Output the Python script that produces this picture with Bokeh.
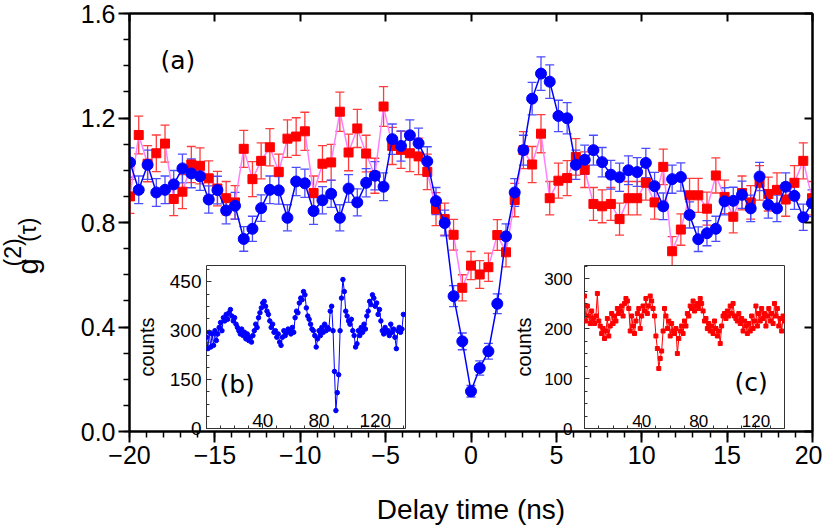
import math
from bokeh.plotting import figure
from bokeh.core.properties import value
from bokeh.models import (ColumnDataSource, Whisker, TeeHead, Range1d, LinearAxis,
                          SingleIntervalTicker, NumeralTickFormatter, Label, GridBox)
from bokeh.embed import file_html
from bokeh.resources import INLINE

# ---------------- data ----------------
tau = [-19.97, -19.46, -18.94, -18.43, -17.92, -17.41, -16.90, -16.38, -15.87, -15.36,
       -14.85, -14.34, -13.82, -13.31, -12.80, -12.29, -11.78, -11.26, -10.75, -10.24,
       -9.73, -9.22, -8.70, -8.19, -7.68, -7.17, -6.66, -6.14, -5.63, -5.12,
       -4.61, -4.10, -3.58, -3.07, -2.56, -2.05, -1.54, -1.02, -0.51, 0.00,
       0.51, 1.02, 1.54, 2.05, 2.56, 3.07, 3.58, 4.10, 4.61, 5.12,
       5.63, 6.14, 6.66, 7.17, 7.68, 8.19, 8.70, 9.22, 9.73, 10.24,
       10.75, 11.26, 11.78, 12.29, 12.80, 13.31, 13.82, 14.34, 14.85, 15.36,
       15.87, 16.38, 16.90, 17.41, 17.92, 18.43, 18.94, 19.46, 19.97]

g2_blue = [1.030, 0.925, 1.021, 0.915, 0.925, 0.946, 1.007, 0.988, 0.977, 0.888,
           0.924, 0.846, 0.864, 0.737, 0.776, 0.855, 0.925, 0.923, 0.818, 0.957,
           0.950, 0.844, 0.885, 0.910, 0.818, 0.930, 0.877, 0.952, 0.979, 0.937,
           1.119, 1.093, 1.134, 1.103, 1.034, 0.882, 0.798, 0.518, 0.345, 0.154,
           0.243, 0.307, 0.489, 0.747, 0.915, 1.077, 1.274, 1.370, 1.339, 1.208,
           1.199, 1.021, 1.040, 1.077, 1.031, 0.983, 0.973, 1.000, 0.993, 1.028,
           0.939, 0.862, 0.966, 0.974, 0.829, 0.736, 0.759, 0.776, 0.881, 0.883,
           0.906, 0.854, 0.976, 0.868, 0.854, 0.937, 0.902, 0.820, 0.874]

err_blue = [0.056, 0.053, 0.056, 0.053, 0.053, 0.053, 0.055, 0.055, 0.054, 0.052,
            0.053, 0.051, 0.051, 0.047, 0.048, 0.051, 0.053, 0.053, 0.050, 0.054,
            0.054, 0.051, 0.052, 0.052, 0.050, 0.053, 0.052, 0.054, 0.054, 0.053,
            0.058, 0.058, 0.059, 0.058, 0.056, 0.052, 0.049, 0.040, 0.032, 0.022,
            0.027, 0.030, 0.038, 0.048, 0.053, 0.057, 0.062, 0.064, 0.064, 0.060,
            0.060, 0.056, 0.056, 0.057, 0.056, 0.055, 0.054, 0.055, 0.055, 0.056,
            0.053, 0.051, 0.054, 0.054, 0.050, 0.047, 0.048, 0.048, 0.052, 0.052,
            0.052, 0.051, 0.054, 0.051, 0.051, 0.053, 0.052, 0.050, 0.051]

g2_red = [0.900, 1.135, 1.025, 1.065, 1.102, 0.890, 0.918, 1.022, 1.017, 0.969,
          0.930, 0.893, 0.877, 1.082, 0.966, 1.036, 1.088, 0.994, 1.121, 1.129,
          1.149, 0.913, 1.025, 1.030, 1.224, 1.068, 1.160, 1.064, 0.979, 1.244,
          1.093, 1.078, 1.065, 1.053, 0.994, 0.851, 0.813, 0.753, 0.550, 0.635,
          0.601, 0.629, 0.752, 0.686, 0.886, 1.077, 1.022, 1.140, 0.893, 0.960,
          0.970, 1.051, 1.002, 0.871, 0.862, 0.871, 0.813, 0.893, 0.893, 0.952,
          0.877, 1.013, 0.690, 0.773, 0.904, 0.904, 0.853, 0.980, 0.898, 0.822,
          0.913, 0.877, 0.952, 0.909, 0.925, 0.888, 0.952, 1.036, 0.893]

err_red = [0.065, 0.072, 0.069, 0.070, 0.071, 0.064, 0.065, 0.069, 0.069, 0.067,
           0.066, 0.064, 0.064, 0.071, 0.067, 0.069, 0.071, 0.068, 0.072, 0.072,
           0.073, 0.065, 0.069, 0.069, 0.075, 0.070, 0.073, 0.070, 0.067, 0.076,
           0.071, 0.071, 0.070, 0.070, 0.068, 0.063, 0.061, 0.059, 0.050, 0.054,
           0.053, 0.054, 0.059, 0.056, 0.064, 0.071, 0.069, 0.073, 0.064, 0.067,
           0.067, 0.070, 0.068, 0.063, 0.063, 0.063, 0.061, 0.064, 0.064, 0.066,
           0.064, 0.068, 0.056, 0.060, 0.065, 0.065, 0.063, 0.067, 0.064, 0.062,
           0.065, 0.064, 0.066, 0.065, 0.065, 0.064, 0.066, 0.069, 0.064]

inset_time = list(range(0, 141))

counts_b = [280, 245, 295, 250, 290, 255, 300, 270, 290, 310,
            325, 300, 340, 330, 350, 335, 355, 365, 345, 330,
            340, 320, 310, 300, 290, 305, 285, 295, 275, 290,
            270, 280, 265, 285, 300, 320, 310, 340, 355, 370,
            385, 390, 375, 360, 350, 330, 310, 320, 295, 300,
            280, 290, 265, 255, 280, 300, 285, 295, 305, 300,
            290, 310, 295, 340, 360, 355, 385, 400, 395, 420,
            410, 370, 345, 335, 320, 305, 300, 285, 250, 275,
            300, 285, 310, 295, 320, 300, 310, 305, 360, 375,
            300, 175, 55, 110, 165, 300, 400, 457, 420, 360,
            345, 330, 320, 335, 300, 285, 250, 260, 300, 285,
            310, 295, 320, 305, 345, 360, 390, 380, 410, 400,
            375, 385, 350, 365, 330, 300, 290, 310, 295, 300,
            285, 320, 295, 305, 280, 245, 300, 310, 295, 305,
            350]

counts_c = [265, 215, 245, 225, 210, 235, 220, 210, 225, 270,
            215, 205, 190, 200, 180, 195, 220, 185, 205, 230,
            210, 225, 215, 240, 230, 235, 245, 225, 250, 260,
            255, 240, 195, 225, 205, 190, 215, 230, 240, 200,
            225, 245, 235, 260, 230, 245, 265, 255, 240, 225,
            185, 160, 120, 140, 155, 195, 240, 225, 200, 215,
            185, 210, 195, 190, 200, 150, 180, 195, 205, 190,
            215, 205, 230, 225, 245, 240, 255, 235, 245, 250,
            240, 260, 250, 235, 215, 220, 200, 210, 195, 205,
            190, 215, 200, 185, 195, 170, 205, 225, 230, 220,
            235, 225, 245, 230, 250, 225, 220, 215, 230, 210,
            220, 195, 215, 205, 190, 210, 195, 225, 200, 215,
            245, 205, 230, 215, 240, 220, 230, 205, 225, 240,
            215, 230, 210, 250, 225, 240, 205, 220, 195, 225,
            215]

inset_xticks = [40, 80, 120]
ylabel_parts = ["g", "(2)", "(τ)"]

TICK_FONT = "Liberation Sans"
H = 527
LW = 60          # width of the y-title holder on the far left
MW = 762         # width of the main figure

# ---------------- main figure ----------------
p = figure(width=MW, height=H, x_range=Range1d(-20, 20), y_range=Range1d(0, 1.6),
           output_backend="svg", toolbar_location=None,
           min_border_left=129 - LW, min_border_right=10, min_border_top=13, min_border_bottom=95,
           background_fill_color="white", border_fill_color="white")
p.xgrid.visible = False
p.ygrid.visible = False
p.outline_line_color = "black"
p.outline_line_width = 2

xa = p.xaxis[0]
xa.ticker = SingleIntervalTicker(interval=5, num_minor_ticks=5)
ya = p.yaxis[0]
ya.ticker = SingleIntervalTicker(interval=0.4, num_minor_ticks=4)
ya.formatter = NumeralTickFormatter(format="0.0")
for ax in (xa, ya):
    ax.axis_line_width = 2
    ax.axis_line_color = "black"
    ax.major_tick_out = 11
    ax.major_tick_in = 0
    ax.minor_tick_out = 6
    ax.minor_tick_in = 0
    ax.major_tick_line_width = 2
    ax.minor_tick_line_width = 1.5
    ax.major_tick_line_color = "black"
    ax.minor_tick_line_color = "black"
    ax.major_label_text_font = TICK_FONT
    ax.major_label_text_font_size = "25px"
    ax.major_label_text_color = "black"
    ax.major_label_standoff = 3
xa.axis_label = "Delay time (ns)"
xa.axis_label_text_font = TICK_FONT
xa.axis_label_text_font_size = "28px"
xa.axis_label_text_font_style = "normal"
xa.axis_label_text_color = "black"
xa.axis_label_standoff = 27

top_ax = LinearAxis(ticker=SingleIntervalTicker(interval=5, num_minor_ticks=0),
                    major_label_text_font_size="0px", major_label_standoff=0,
                    major_tick_in=8, major_tick_out=0, minor_tick_in=0, minor_tick_out=0,
                    major_tick_line_width=2, axis_line_width=2)
right_ax = LinearAxis(ticker=SingleIntervalTicker(interval=0.4, num_minor_ticks=0),
                      major_label_text_font_size="0px", major_label_standoff=0,
                      major_tick_in=8, major_tick_out=0, minor_tick_in=0, minor_tick_out=0,
                      major_tick_line_width=2, axis_line_width=2)
p.add_layout(top_ax, "above")
p.add_layout(right_ax, "right")

src_b = ColumnDataSource(dict(t=tau, g=g2_blue,
                              lo=[g - e for g, e in zip(g2_blue, err_blue)],
                              up=[g + e for g, e in zip(g2_blue, err_blue)]))
src_r = ColumnDataSource(dict(t=tau, g=g2_red,
                              lo=[g - e for g, e in zip(g2_red, err_red)],
                              up=[g + e for g, e in zip(g2_red, err_red)]))

RED_ERR = "#FF3C3C"
BLUE_ERR = "#4B4BFF"
wr = Whisker(source=src_r, base="t", lower="lo", upper="up", line_color=RED_ERR, line_width=1.3,
             upper_head=TeeHead(size=9, line_color=RED_ERR, line_width=1.3),
             lower_head=TeeHead(size=9, line_color=RED_ERR, line_width=1.3), level="underlay")
wb = Whisker(source=src_b, base="t", lower="lo", upper="up", line_color=BLUE_ERR, line_width=1.3,
             upper_head=TeeHead(size=9, line_color=BLUE_ERR, line_width=1.3),
             lower_head=TeeHead(size=9, line_color=BLUE_ERR, line_width=1.3), level="underlay")
p.add_layout(wr)
p.add_layout(wb)

p.line("t", "g", source=src_r, line_color="#FF80FF", line_width=1.5)
p.scatter("t", "g", source=src_r, marker="square", size=9, fill_color="#FF0000", line_color="#FF0000")
p.line("t", "g", source=src_b, line_color="#0000FF", line_width=1.5)
p.scatter("t", "g", source=src_b, marker="circle", size=11, fill_color="#0000FF", line_color="#0000FF")

p.add_layout(Label(x=31, y=371, x_units="screen", y_units="screen", text="(a)",
                   text_font="DejaVu Sans", text_font_size="25px", text_color="black",
                   text_baseline="alphabetic", text_align="left"))

# ---------------- y-axis title holder: g^(2)(tau) ----------------
pl = figure(width=LW, height=H, x_range=Range1d(0, LW), y_range=Range1d(0, H),
            output_backend="svg", toolbar_location=None, x_axis_type=None, y_axis_type=None,
            min_border_left=0, min_border_right=0, min_border_top=0, min_border_bottom=0,
            background_fill_color="white", border_fill_color="white", outline_line_color=None)
pl.xgrid.visible = False
pl.ygrid.visible = False
ysrc = ColumnDataSource(dict(x=[27.7, 12.0, 27.0], y=[198, 208, 239], t=ylabel_parts,
                             fs=["29px", "23px", "23px"]))
pl.text(x="x", y="y", text="t", source=ysrc, angle=math.pi / 2,
        text_font=value(TICK_FONT), text_font_size="fs", text_color="black",
        text_baseline="alphabetic", text_align="left")


# ---------------- insets ----------------
def make_inset(ymax, xmax, yint, width, border_top, lab_size, lab_standoff, title_standoff,
               letter, lx, ly):
    f = figure(width=width, height=190, x_range=Range1d(0, xmax), y_range=Range1d(0, ymax),
               output_backend="svg", toolbar_location=None,
               min_border_left=72, min_border_right=4, min_border_top=border_top,
               min_border_bottom=12, background_fill_color="white", border_fill_color=None,
               outline_line_color="#333333", outline_line_width=1)
    f.xgrid.visible = False
    f.ygrid.visible = False
    f.xaxis.ticker = SingleIntervalTicker(interval=40, num_minor_ticks=4)
    f.yaxis.ticker = SingleIntervalTicker(interval=yint, num_minor_ticks=4)
    for ax in (f.xaxis[0], f.yaxis[0]):
        ax.axis_line_color = None
        ax.major_tick_in = 5
        ax.major_tick_out = 0
        ax.minor_tick_in = 3
        ax.minor_tick_out = 0
        ax.major_tick_line_color = "#333333"
        ax.minor_tick_line_color = "#333333"
        ax.major_label_text_font = TICK_FONT
        ax.major_label_text_color = "black"
    f.xaxis.major_label_text_font_size = "0px"
    f.xaxis.major_label_standoff = 0
    f.yaxis.major_label_text_font_size = lab_size
    f.yaxis.major_label_standoff = lab_standoff
    f.yaxis.axis_label = "counts"
    f.yaxis.axis_label_text_font = TICK_FONT
    f.yaxis.axis_label_text_font_size = "20px"
    f.yaxis.axis_label_text_font_style = "normal"
    f.yaxis.axis_label_text_color = "black"
    f.yaxis.axis_label_standoff = title_standoff
    for xt in inset_xticks:
        f.add_layout(Label(x=xt, y=8, x_units="data", y_units="screen", text=str(xt),
                           text_font=TICK_FONT, text_font_size=lab_size, text_color="black",
                           text_align="center", text_baseline="alphabetic"))
    f.add_layout(Label(x=lx, y=ly, x_units="screen", y_units="screen", text=letter,
                       text_font="DejaVu Sans", text_font_size="25px", text_color="black",
                       text_baseline="alphabetic", text_align="left"))
    return f


pb = make_inset(500, 141.5, 150, 277, 15, "19px", 5, 9, "(b)", 13, 44)
pb.line(inset_time, counts_b, line_color="#0000FF", line_width=1)
pb.scatter(inset_time, counts_b, marker="circle", size=4.5, fill_color="#0000FF", line_color="#0000FF")

pc = make_inset(326, 140, 100, 278, 14, "17px", 12, 6, "(c)", 150, 46)
pc.line(inset_time, counts_c, line_color="#FF0000", line_width=1)
pc.scatter(inset_time, counts_c, marker="square", size=4, fill_color="#FF0000", line_color="#FF0000")

grid = GridBox(children=[(pl, 0, 0, 3, 1), (p, 0, 1, 3, 5), (pb, 1, 2), (pc, 1, 4)],
               rows=["250px", "190px", "87px"],
               cols=[f"{LW}px", f"{132 - LW}px", "277px", "101px", "278px", "34px"],
               spacing=0)

open("out.html", "w").write(file_html(grid, INLINE))
